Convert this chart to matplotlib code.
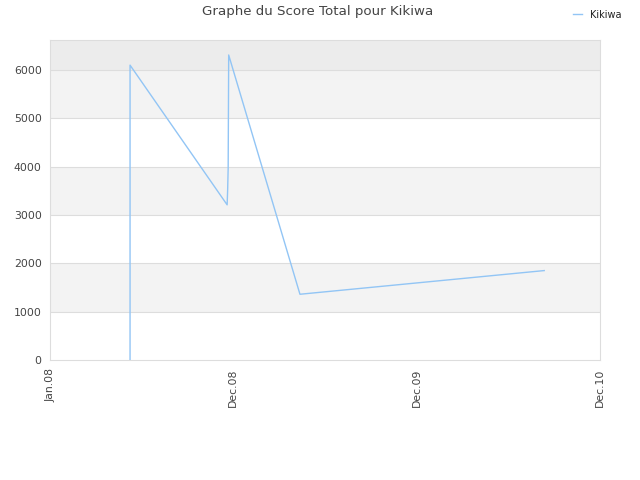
import matplotlib
matplotlib.use("Agg")
import matplotlib.pyplot as plt
import matplotlib.dates as mdates
import numpy as np
from datetime import datetime

# ---- data ----
dates = [datetime(2008, 6, 4), datetime(2008, 6, 4), datetime(2008, 12, 9),
         datetime(2008, 12, 10), datetime(2008, 12, 11), datetime(2008, 12, 12),
         datetime(2009, 4, 29), datetime(2010, 8, 15)]
scores = [0, 6100, 3210, 3520, 3970, 6310, 1360, 1850]
tick_labels = ["Jan.08", "Dec.08", "Dec.09", "Dec.10"]
x_start, x_end = datetime(2008, 1, 1), datetime(2010, 12, 1)
y_max = 6620

LINE = "#92c5f5"
TXT = "#444444"

fig = plt.figure(figsize=(6.4, 4.8), dpi=100)
ax = fig.add_axes([50/640, 1-360/480, 550/640, 320/480])

# alternating horizontal bands
bands = [(1000, 2000, "#f3f3f3"), (3000, 4000, "#f3f3f3"),
         (5000, 6000, "#f3f3f3"), (6000, y_max, "#ececec")]
for lo, hi, c in bands:
    ax.axhspan(lo, hi, color=c, lw=0, zorder=0)
for y in range(1000, 7000, 1000):
    ax.axhline(y, color="#dddddd", lw=0.8, zorder=1)

ax.plot(dates, scores, color=LINE, lw=1.0, zorder=3, label="Kikiwa")

ax.set_ylim(0, y_max)
ax.set_xlim(x_start, x_end)
x0, x1 = mdates.date2num(x_start), mdates.date2num(x_end)
ax.set_xticks(np.linspace(x0, x1, len(tick_labels)))
ax.set_xticklabels(tick_labels, rotation=90, fontsize=7.8, color=TXT)
ax.set_yticks(range(0, 7000, 1000))
ax.set_yticklabels([str(v) for v in range(0, 7000, 1000)], fontsize=7.8, color=TXT)
ax.tick_params(length=0, pad=6)
for s in ax.spines.values():
    s.set_color("#dddddd"); s.set_linewidth(0.8)

fig.text(318/640, 1-12/480, "Graphe du Score Total pour Kikiwa", ha="center",
         va="center", fontsize=9.6, color=TXT)
leg = fig.legend(loc="upper right", bbox_to_anchor=(0.985, 0.998), frameon=False,
                 fontsize=7, handlelength=1.0, handletextpad=0.8)
for t in leg.get_texts():
    t.set_color("#222222")

fig.savefig("out.png", dpi=100)
